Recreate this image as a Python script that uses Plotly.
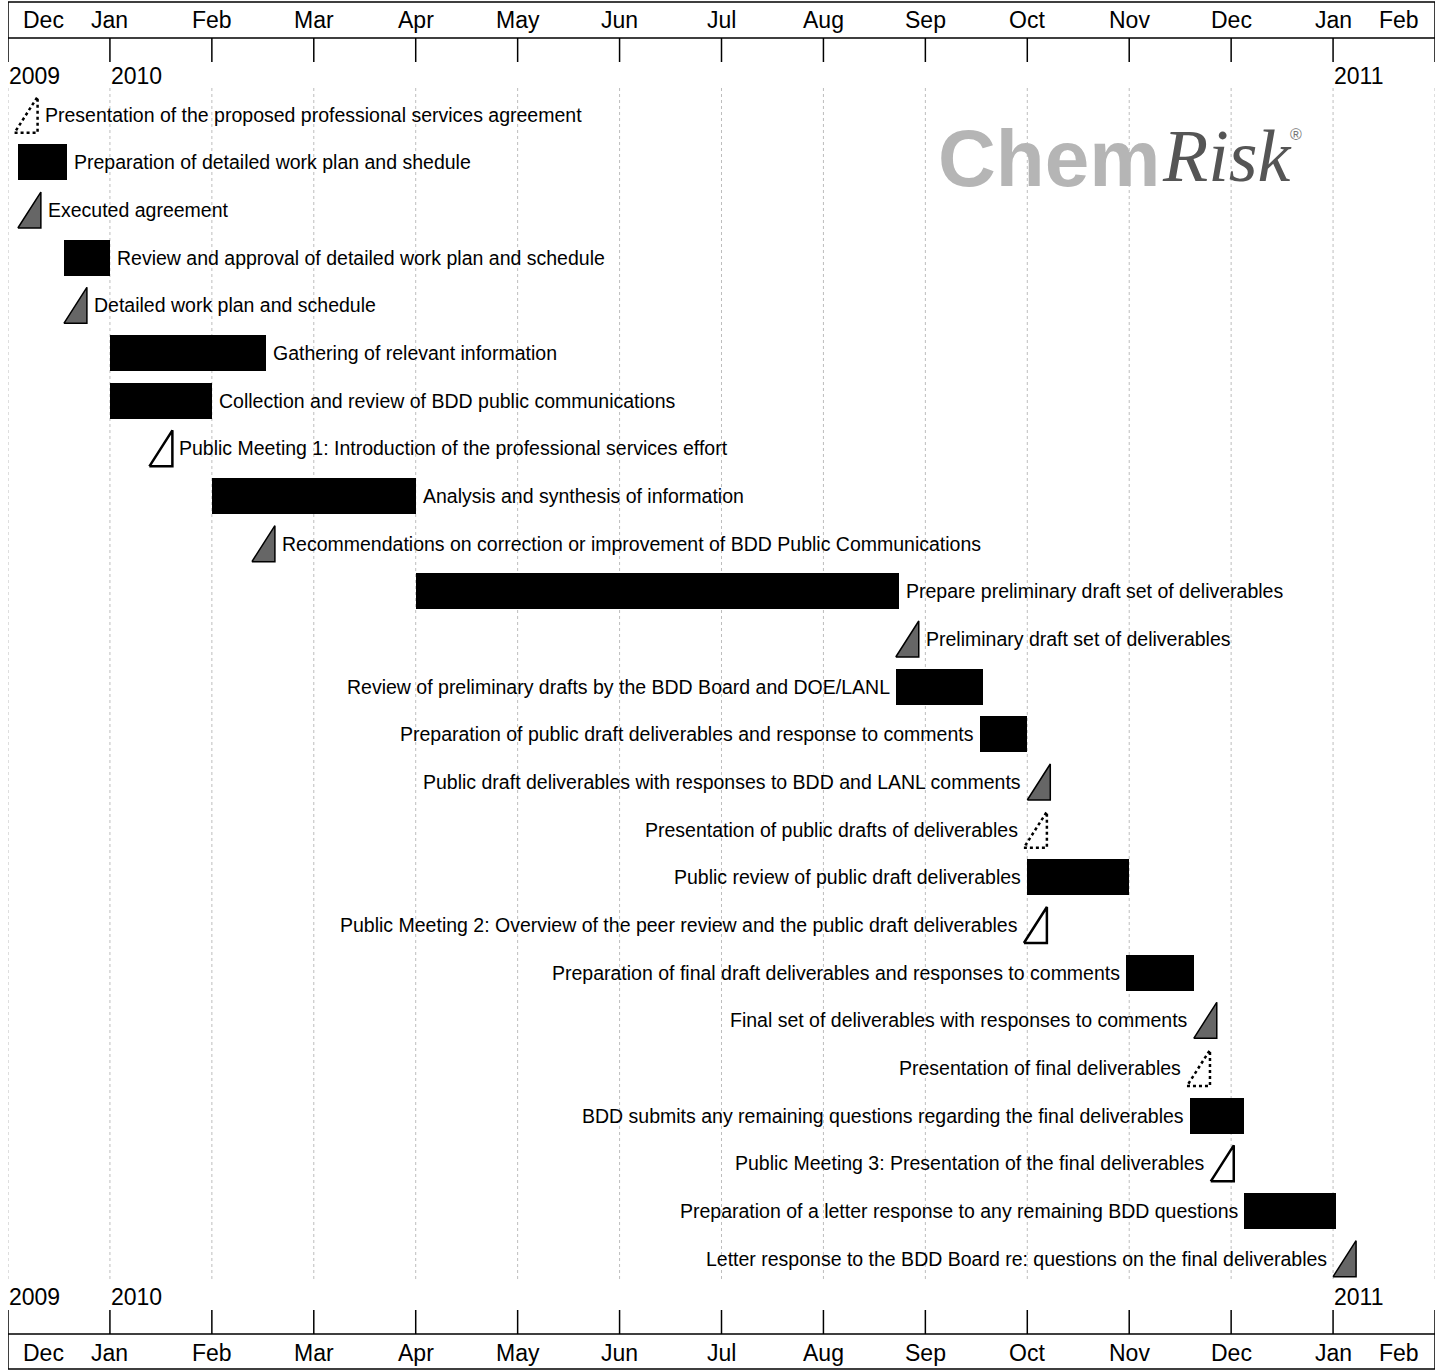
import calendar
import plotly.graph_objects as go

# ---------------- data ----------------
MONTH_LABELS = ["Dec", "Jan", "Feb", "Mar", "Apr", "May", "Jun", "Jul",
                "Aug", "Sep", "Oct", "Nov", "Dec", "Jan", "Feb"]
AXIS_START_YEAR = 2009
AXIS_START_MONTH = 12
YEAR_LABELS = ["2009", "2010", "2011"]

TASKS = [
    "Presentation of the proposed professional services agreement",
    "Preparation of detailed work plan and shedule",
    "Executed agreement",
    "Review and approval of detailed work plan and schedule",
    "Detailed work plan and schedule",
    "Gathering of relevant information",
    "Collection and review of BDD public communications",
    "Public Meeting 1: Introduction of the professional services effort",
    "Analysis and synthesis of information",
    "Recommendations on correction or improvement of BDD Public Communications",
    "Prepare preliminary draft set of deliverables",
    "Preliminary draft set of deliverables",
    "Review of preliminary drafts by the BDD Board and DOE/LANL",
    "Preparation of public draft deliverables and response to comments",
    "Public draft deliverables with responses to BDD and LANL comments",
    "Presentation of public drafts of deliverables",
    "Public review of public draft deliverables",
    "Public Meeting 2: Overview of the peer review and the public draft deliverables",
    "Preparation of final draft deliverables and responses to comments",
    "Final set of deliverables with responses to comments",
    "Presentation of final deliverables",
    "BDD submits any remaining questions regarding the final deliverables",
    "Public Meeting 3: Presentation of the final deliverables",
    "Preparation of a letter response to any remaining BDD questions",
    "Letter response to the BDD Board re: questions on the final deliverables",
]
STARTS = [
    "2009-12-03", "2009-12-04", "2009-12-04", "2009-12-18", "2009-12-18",
    "2010-01-01", "2010-01-01", "2010-01-13", "2010-02-01", "2010-02-12",
    "2010-04-01", "2010-08-23", "2010-08-23", "2010-09-17", "2010-10-01",
    "2010-09-30", "2010-10-01", "2010-09-30", "2010-10-31", "2010-11-20",
    "2010-11-18", "2010-11-19", "2010-11-25", "2010-12-05", "2011-01-01",
]
ENDS = [
    None, "2009-12-19", None, "2010-01-01", None,
    "2010-02-16", "2010-02-01", None, "2010-04-01", None,
    "2010-08-24", None, "2010-09-18", "2010-10-01", None,
    None, "2010-11-01", None, "2010-11-20", None,
    None, "2010-12-05", None, "2011-01-02", None,
]
# bar = task, milestone kinds: deliverable / meeting / presentation
KINDS = [
    "presentation", "bar", "deliverable", "bar", "deliverable",
    "bar", "bar", "meeting", "bar", "deliverable",
    "bar", "deliverable", "bar", "bar", "deliverable",
    "presentation", "bar", "meeting", "bar", "deliverable",
    "presentation", "bar", "meeting", "bar", "deliverable",
]

# ---------------- style / layout constants ----------------
W, H = 1442, 1370
ML, MR, MT, MB = 8, 7, 88, 88
PLOT_H = H - MT - MB
N_MONTHS = len(MONTH_LABELS) - 1
PX_PER_MONTH = (W - ML - MR) / N_MONTHS
ROW_PX = 47.68
FONT = "Liberation Sans, Arial, sans-serif"
LABELS_LEFT_FROM = 12          # rows from here on carry their label on the left
TRI_W = 23 / PX_PER_MONTH      # milestone triangle width (months)
TRI_H = 36 / ROW_PX            # milestone triangle height (rows)
BAR_W = 36 / ROW_PX


def mpos(s):
    y, m, d = map(int, s.split("-"))
    idx = (y - AXIS_START_YEAR) * 12 + (m - AXIS_START_MONTH)
    return idx + (d - 1) / calendar.monthrange(y, m)[1]


def py(px):
    """pixel row (from top of figure) -> paper y"""
    return (H - MB - px) / PLOT_H


def pxx(px):
    """pixel column -> paper x"""
    return (px - ML) / (W - ML - MR)


rows = list(range(len(TASKS)))
fig = go.Figure()

# bars
bar_rows = [i for i in rows if KINDS[i] == "bar"]
fig.add_trace(go.Bar(
    y=bar_rows,
    base=[mpos(STARTS[i]) for i in bar_rows],
    x=[mpos(ENDS[i]) - mpos(STARTS[i]) for i in bar_rows],
    orientation="h", width=BAR_W,
    marker=dict(color="#000000", line=dict(width=0)),
    hoverinfo="skip",
))

# milestones (right triangles)
styles = {
    "deliverable": dict(fill="toself", fillcolor="#666666",
                        line=dict(color="#000000", width=1.5)),
    "meeting": dict(fill="toself", fillcolor="#ffffff",
                    line=dict(color="#000000", width=2.5)),
    "presentation": dict(fill="none",
                         line=dict(color="#000000", width=2.5, dash="dot")),
}
for kind, st in styles.items():
    xs, ys = [], []
    for i in rows:
        if KINDS[i] != kind:
            continue
        x0 = mpos(STARTS[i])
        xs += [x0, x0 + TRI_W, x0 + TRI_W, x0, None]
        ys += [i + TRI_H / 2, i + TRI_H / 2, i - TRI_H / 2, i + TRI_H / 2, None]
    fig.add_trace(go.Scatter(x=xs, y=ys, mode="lines", hoverinfo="skip", **st))

annotations = []
# task labels
for i in rows:
    start = mpos(STARTS[i])
    end = mpos(ENDS[i]) if ENDS[i] else start + TRI_W
    if i < LABELS_LEFT_FROM:
        annotations.append(dict(x=end, y=i, xref="x", yref="y", text=TASKS[i],
                                xanchor="left", yanchor="middle", xshift=5,
                                showarrow=False,
                                font=dict(family=FONT, size=19.5, color="#000")))
    else:
        annotations.append(dict(x=start, y=i, xref="x", yref="y", text=TASKS[i],
                                xanchor="right", yanchor="middle", xshift=-4,
                                showarrow=False,
                                font=dict(family=FONT, size=19.5, color="#000")))

shapes = []
line_k = dict(color="#000000", width=1.5)
for k, lab in enumerate(MONTH_LABELS):
    # gridlines
    shapes.append(dict(type="line", xref="x", yref="paper", x0=k, x1=k,
                       y0=py(MT), y1=py(H - MB), layer="below",
                       line=dict(color="#bdbdbd", width=1, dash="dot")))
    # ticks top and bottom
    shapes.append(dict(type="line", xref="x", yref="paper", x0=k, x1=k,
                       y0=py(38), y1=py(62), line=line_k))
    shapes.append(dict(type="line", xref="x", yref="paper", x0=k, x1=k,
                       y0=py(1310), y1=py(1334), line=line_k))
    # month labels
    if k == 0:
        anchor, shift = "left", 13
    elif k == N_MONTHS:
        anchor, shift = "right", -14
    else:
        anchor, shift = "center", 0
    for ypx in (20, 1353):
        annotations.append(dict(x=k, y=py(ypx), xref="x", yref="paper", text=lab,
                                xanchor=anchor, yanchor="middle", xshift=shift,
                                showarrow=False,
                                font=dict(family=FONT, size=23, color="#000")))

# header / footer boxes
shapes.append(dict(type="rect", xref="x", yref="paper", x0=0, x1=N_MONTHS,
                   y0=py(2), y1=py(38), line=line_k))
shapes.append(dict(type="rect", xref="x", yref="paper", x0=0, x1=N_MONTHS,
                   y0=py(1334), y1=py(1369), line=line_k))

# year labels at first month and every January
year_ticks = [0] + [k for k, lab in enumerate(MONTH_LABELS) if lab == "Jan"]
for yl, k in zip(YEAR_LABELS, year_ticks):
    for ypx in (76, 1297):
        annotations.append(dict(x=k, y=py(ypx), xref="x", yref="paper", text=yl,
                                xanchor="left", yanchor="middle", xshift=-1,
                                showarrow=False,
                                font=dict(family=FONT, size=23, color="#000")))

# logo
annotations.append(dict(x=pxx(1162), y=py(158), xref="paper", yref="paper",
                        text="<b>Chem</b>", xanchor="right", yanchor="middle",
                        showarrow=False,
                        font=dict(family=FONT, size=80, color="#b5b5b5")))
annotations.append(dict(x=pxx(1160), y=py(156), xref="paper", yref="paper",
                        text="<i>Risk</i>", xanchor="left", yanchor="middle",
                        showarrow=False,
                        font=dict(family="Liberation Serif, Times New Roman, serif",
                                  size=74, color="#555555")))
annotations.append(dict(x=pxx(1296), y=py(134), xref="paper",
                        yref="paper", text="®", xanchor="center", yanchor="middle",
                        showarrow=False,
                        font=dict(family=FONT, size=16, color="#777777")))

fig.update_layout(
    width=W, height=H,
    margin=dict(l=ML, r=MR, t=MT, b=MB, pad=0),
    paper_bgcolor="white", plot_bgcolor="white",
    showlegend=False,
    xaxis=dict(range=[0, N_MONTHS], visible=False, fixedrange=True),
    yaxis=dict(range=[len(TASKS) - 1 + 0.49, -0.56], visible=False, fixedrange=True),
    shapes=shapes, annotations=annotations,
    bargap=0,
)

fig.write_html("out.html",
               config={"displayModeBar": False},
               post_script="document.body.style.margin='0';")
